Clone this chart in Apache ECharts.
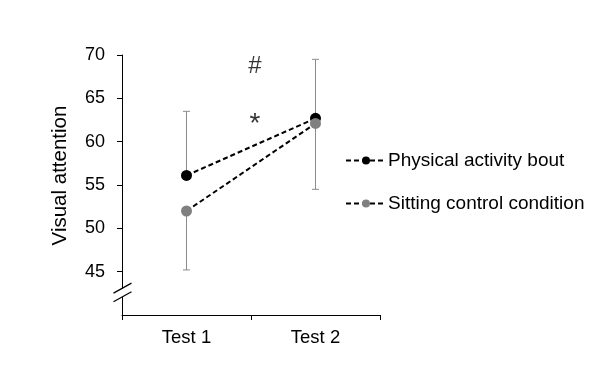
<!DOCTYPE html>
<html>
<head>
<meta charset="utf-8">
<script src="https://cdn.jsdelivr.net/npm/echarts@6/dist/echarts.min.js"></script>
<style>
  html, body { margin: 0; padding: 0; background: #fff; }
  #chart { width: 609px; height: 368px; }
</style>
</head>
<body>
<div id="chart"></div>
<script>
const categories = ['Test 1', 'Test 2'];
const yTicks = [45, 50, 55, 60, 65, 70];

const physicalMean = [56.1, 62.7];
const physicalErrUp = [7.4, 6.8];
const sittingMean = [52.0, 62.1];
const sittingErrDown = [6.8, 7.6];

// significance marks, placed on a hidden 0..2 value axis (1 = between the tests)
const marks = [
  { text: '#', x: 1.03, y: 68.7, size: 24 },
  { text: '*', x: 1.03, y: 62.0, size: 28 },
];

const FONT = 'Liberation Sans, Arial, sans-serif';

const physicalBars = physicalMean.map((m, i) => [i, m, m + physicalErrUp[i]]);
const sittingBars = sittingMean.map((m, i) => [i, m - sittingErrDown[i], m]);

function renderErrorBar(params, api) {
  const lo = api.coord([api.value(0), api.value(1)]);
  const hi = api.coord([api.value(0), api.value(2)]);
  const cap = 3.5;
  const style = { stroke: '#8c8c8c', lineWidth: 1 };
  return {
    type: 'group',
    children: [
      { type: 'line', shape: { x1: lo[0], y1: lo[1], x2: hi[0], y2: hi[1] }, style },
      { type: 'line', shape: { x1: hi[0] - cap, y1: hi[1], x2: hi[0] + cap, y2: hi[1] }, style },
      { type: 'line', shape: { x1: lo[0] - cap, y1: lo[1], x2: lo[0] + cap, y2: lo[1] }, style },
    ],
  };
}

const chart = echarts.init(document.getElementById('chart'));

chart.setOption({
  animation: false,
  textStyle: { fontFamily: FONT },
  grid: { left: 122, right: 229, top: 55, bottom: 53 },
  legend: {
    orient: 'vertical',
    left: 345,
    top: 151,
    padding: 0,
    itemWidth: 40,
    itemHeight: 10,
    itemGap: 24,
    data: ['Physical activity bout', 'Sitting control condition'],
    textStyle: { fontSize: 19, color: '#000', fontFamily: FONT, padding: [0, 0, 0, -3] },
  },
  xAxis: [
    {
      type: 'category',
      data: categories,
      axisLine: { lineStyle: { color: '#000', width: 1 } },
      axisTick: { show: true, length: 5, inside: false, lineStyle: { color: '#000' } },
      axisLabel: { fontSize: 18.5, color: '#000', margin: 13, fontFamily: FONT },
    },
    {
      type: 'value',
      min: 0,
      max: 2,
      show: false,
    },
  ],
  yAxis: {
    type: 'value',
    min: 40,
    max: 70,
    interval: 5,
    name: 'Visual attention',
    nameLocation: 'middle',
    nameGap: 51,
    nameTextStyle: { fontSize: 20.5, color: '#000', fontFamily: FONT, padding: [0, 0, 0, 19] },
    splitLine: { show: false },
    axisLine: { show: true, lineStyle: { color: '#000', width: 1 } },
    axisTick: { show: true, length: 5, lineStyle: { color: '#000' }, customValues: yTicks },
    axisLabel: { fontSize: 18, color: '#000', margin: 17, fontFamily: FONT, customValues: yTicks },
  },
  series: [
    {
      type: 'custom',
      renderItem: renderErrorBar,
      data: physicalBars,
      encode: { x: 0, y: [1, 2] },
      z: 1,
      silent: true,
    },
    {
      type: 'custom',
      renderItem: renderErrorBar,
      data: sittingBars,
      encode: { x: 0, y: [1, 2] },
      z: 1,
      silent: true,
    },
    {
      name: 'Sitting control condition',
      type: 'line',
      data: sittingMean,
      symbol: 'circle',
      symbolSize: 11,
      itemStyle: { color: '#808080' },
      lineStyle: { color: '#000', width: 2, type: [5, 3] },
      z: 3,
    },
    {
      name: 'Physical activity bout',
      type: 'line',
      data: physicalMean,
      symbol: 'circle',
      symbolSize: 11,
      itemStyle: { color: '#000' },
      lineStyle: { color: '#000', width: 2, type: [5, 3] },
      z: 2,
    },
    {
      type: 'scatter',
      xAxisIndex: 1,
      symbolSize: 0,
      data: marks.map((m) => ({
        value: [m.x, m.y],
        name: m.text,
        label: { fontSize: m.size },
      })),
      label: {
        show: true,
        position: 'inside',
        formatter: (p) => p.name,
        color: '#000',
        fontFamily: FONT,
      },
      silent: true,
    },
  ],
});

// axis break marks on the y axis
const axisX = chart.convertToPixel({ xAxisIndex: 0 }, 0) - 64;
const breakA = chart.convertToPixel({ yAxisIndex: 0 }, 43.1);
const breakB = chart.convertToPixel({ yAxisIndex: 0 }, 42.1);
const dx = 9;
const dy = 5;
chart.setOption({
  graphic: [
    {
      type: 'polygon',
      shape: {
        points: [
          [axisX - dx, breakA + dy], [axisX + dx, breakA - dy],
          [axisX + dx, breakB - dy], [axisX - dx, breakB + dy],
        ],
      },
      style: { fill: '#fff' },
      z: 10,
    },
    {
      type: 'line',
      shape: { x1: axisX - dx, y1: breakA + dy, x2: axisX + dx, y2: breakA - dy },
      style: { stroke: '#000', lineWidth: 1.2 },
      z: 11,
    },
    {
      type: 'line',
      shape: { x1: axisX - dx, y1: breakB + dy, x2: axisX + dx, y2: breakB - dy },
      style: { stroke: '#000', lineWidth: 1.2 },
      z: 11,
    },
  ],
});
</script>
</body>
</html>
